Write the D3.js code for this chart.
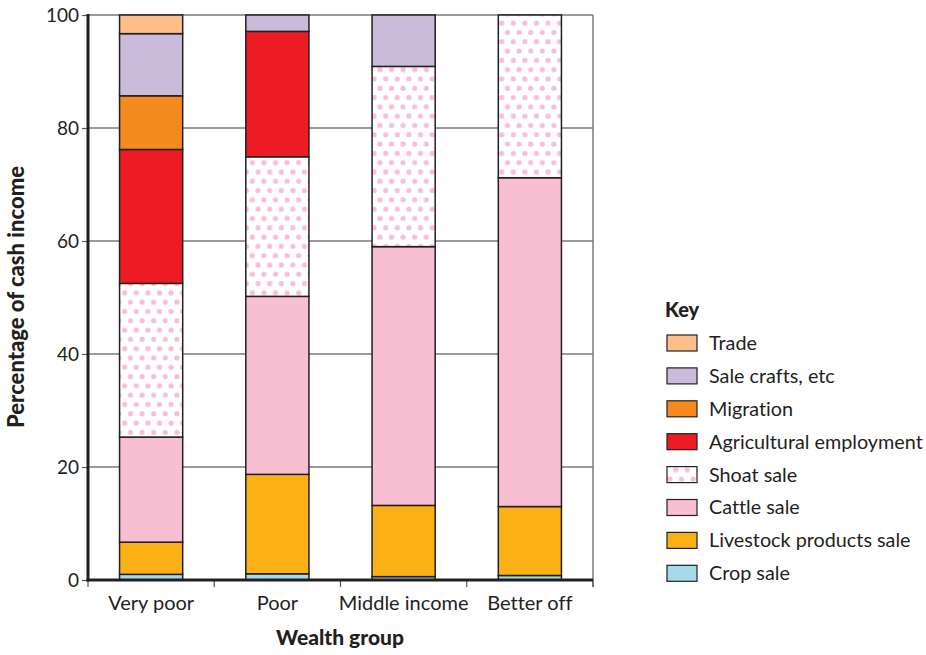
<!DOCTYPE html>
<html><head><meta charset="utf-8">
<script src="https://cdn.jsdelivr.net/npm/d3@7"></script>
<style>body{margin:0;background:#fff}text{font-family:Lato,"Open Sans",sans-serif;fill:#231f20;font-variant-ligatures:none}</style>
</head><body><svg id="c" width="926" height="655"></svg>
<script>
const groups = ["Very poor", "Poor", "Middle income", "Better off"];
const seriesNames = ["Crop sale", "Livestock products sale", "Cattle sale", "Shoat sale", "Agricultural employment", "Migration", "Sale crafts, etc", "Trade"];
const cropSale = [1.0, 1.1, 0.6, 0.8];
const livestockProducts = [5.7, 17.6, 12.6, 12.2];
const cattleSale = [18.6, 31.5, 45.8, 58.2];
const shoatSale = [27.2, 24.7, 31.9, 28.8];
const agriEmployment = [23.7, 22.2, 0, 0];
const migration = [9.5, 0, 0, 0];
const saleCrafts = [11.0, 2.9, 9.1, 0];
const trade = [3.3, 0, 0, 0];
const yTicks = [0, 20, 40, 60, 80, 100];
const colors = ["#a3dbe8", "#fbb116", "#f7bfd1", "url(#dots)", "#ed1c24", "#f58a1f", "#cbbbdb", "#fdbe87"];

const seriesVals = [cropSale, livestockProducts, cattleSale, shoatSale, agriEmployment, migration, saleCrafts, trade];
const rows = groups.map((g, i) => { const r = {group: g}; seriesNames.forEach((s, j) => r[s] = seriesVals[j][i]); return r; });
const stack = d3.stack().keys(seriesNames)(rows);

const svg = d3.select("#c");
const defs = svg.append("defs");
const pat = defs.append("pattern").attr("id", "dots").attr("patternUnits", "userSpaceOnUse")
  .attr("width", 11.6).attr("height", 18.6);
pat.append("rect").attr("width", 11.6).attr("height", 18.6).attr("fill", "#fff");
pat.append("circle").attr("cx", 2.9).attr("cy", 4.6).attr("r", 2.6).attr("fill", "#f7bfd2");
pat.append("circle").attr("cx", 8.7).attr("cy", 13.9).attr("r", 2.6).attr("fill", "#f7bfd2");
pat.append("circle").attr("cx", -2.9).attr("cy", 13.9).attr("r", 2.6).attr("fill", "#f7bfd2");

const x0 = 88, x1 = 593, yTop = 15, yBot = 580;
const x = d3.scaleBand().domain(groups).range([x0, x1]).paddingInner(0.5).paddingOuter(0.25);
const y = d3.scaleLinear().domain([0, 100]).range([yBot, yTop]);

// gridlines
svg.append("g").selectAll("line").data(yTicks.filter(t => t > 0)).join("line")
  .attr("x1", x0).attr("x2", x1).attr("y1", d => y(d)).attr("y2", d => y(d))
  .attr("stroke", "#7a7a7a").attr("stroke-width", 1.5);
svg.append("line").attr("x1", x1).attr("x2", x1).attr("y1", yTop).attr("y2", yBot + 7)
  .attr("stroke", "#7a7a7a").attr("stroke-width", 1.5);

// bars
svg.append("g").selectAll("g").data(stack).join("g")
  .attr("fill", (d, i) => colors[i])
  .selectAll("rect").data(d => d.filter(p => p[1] - p[0] > 0)).join("rect")
  .attr("x", d => x(d.data.group)).attr("width", x.bandwidth())
  .attr("y", d => y(d[1])).attr("height", d => y(d[0]) - y(d[1]))
  .attr("stroke", "#231f20").attr("stroke-width", 1.5);

// y axis
const yAxis = svg.append("g").attr("transform", `translate(${x0},0)`)
  .call(d3.axisLeft(y).tickValues(yTicks).tickSize(6).tickPadding(3));
yAxis.select(".domain").remove();
yAxis.selectAll(".tick line").attr("stroke", "#555").attr("stroke-width", 1.2);
yAxis.selectAll(".tick text").style("font-size", "19px").attr("fill", "#231f20").attr("dy", "0.35em");
svg.append("line").attr("x1", x0).attr("x2", x0).attr("y1", yTop - 1).attr("y2", yBot + 1.5)
  .attr("stroke", "#231f20").attr("stroke-width", 3);

// x axis
const xAxis = svg.append("g").attr("transform", `translate(0,${yBot})`)
  .call(d3.axisBottom(x).tickSize(0).tickPadding(16));
xAxis.select(".domain").remove();
xAxis.selectAll(".tick text").style("font-size", "20px").attr("fill", "#231f20");
const bounds = groups.map(g => x(g) - x.step() * x.paddingInner() / 2).concat([x1]);
svg.append("g").selectAll("line").data(bounds).join("line")
  .attr("x1", d => d).attr("x2", d => d).attr("y1", yBot).attr("y2", yBot + 7)
  .attr("stroke", "#555").attr("stroke-width", 1.2);
svg.append("line").attr("x1", x0 - 1.5).attr("x2", x1).attr("y1", yBot).attr("y2", yBot)
  .attr("stroke", "#231f20").attr("stroke-width", 3);

// titles
svg.append("text").attr("transform", "translate(24,297) rotate(-90)").attr("text-anchor", "middle")
  .style("font-size", "22px").style("font-weight", "900").text("Percentage of cash income");
svg.append("text").attr("x", 340).attr("y", 645).attr("text-anchor", "middle")
  .style("font-size", "21px").style("font-weight", "900").text("Wealth group");

// legend
const legendOrder = seriesNames.map((s, i) => ({name: s, color: colors[i]})).reverse();
const lg = svg.append("g");
lg.append("text").attr("x", 665).attr("y", 317).style("font-size", "20px").style("font-weight", "900").text("Key");
const li = lg.selectAll("g.item").data(legendOrder).join("g").attr("class", "item")
  .attr("transform", (d, i) => `translate(667,${343 + i * 32.9})`);
li.append("rect").attr("x", 0).attr("y", -8).attr("width", 30).attr("height", 16)
  .attr("fill", d => d.color).attr("stroke", "#231f20").attr("stroke-width", 1.2);
li.append("text").attr("x", 42).attr("y", 0).attr("dy", "0.35em").style("font-size", "19.8px").text(d => d.name);
</script>
</body></html>
